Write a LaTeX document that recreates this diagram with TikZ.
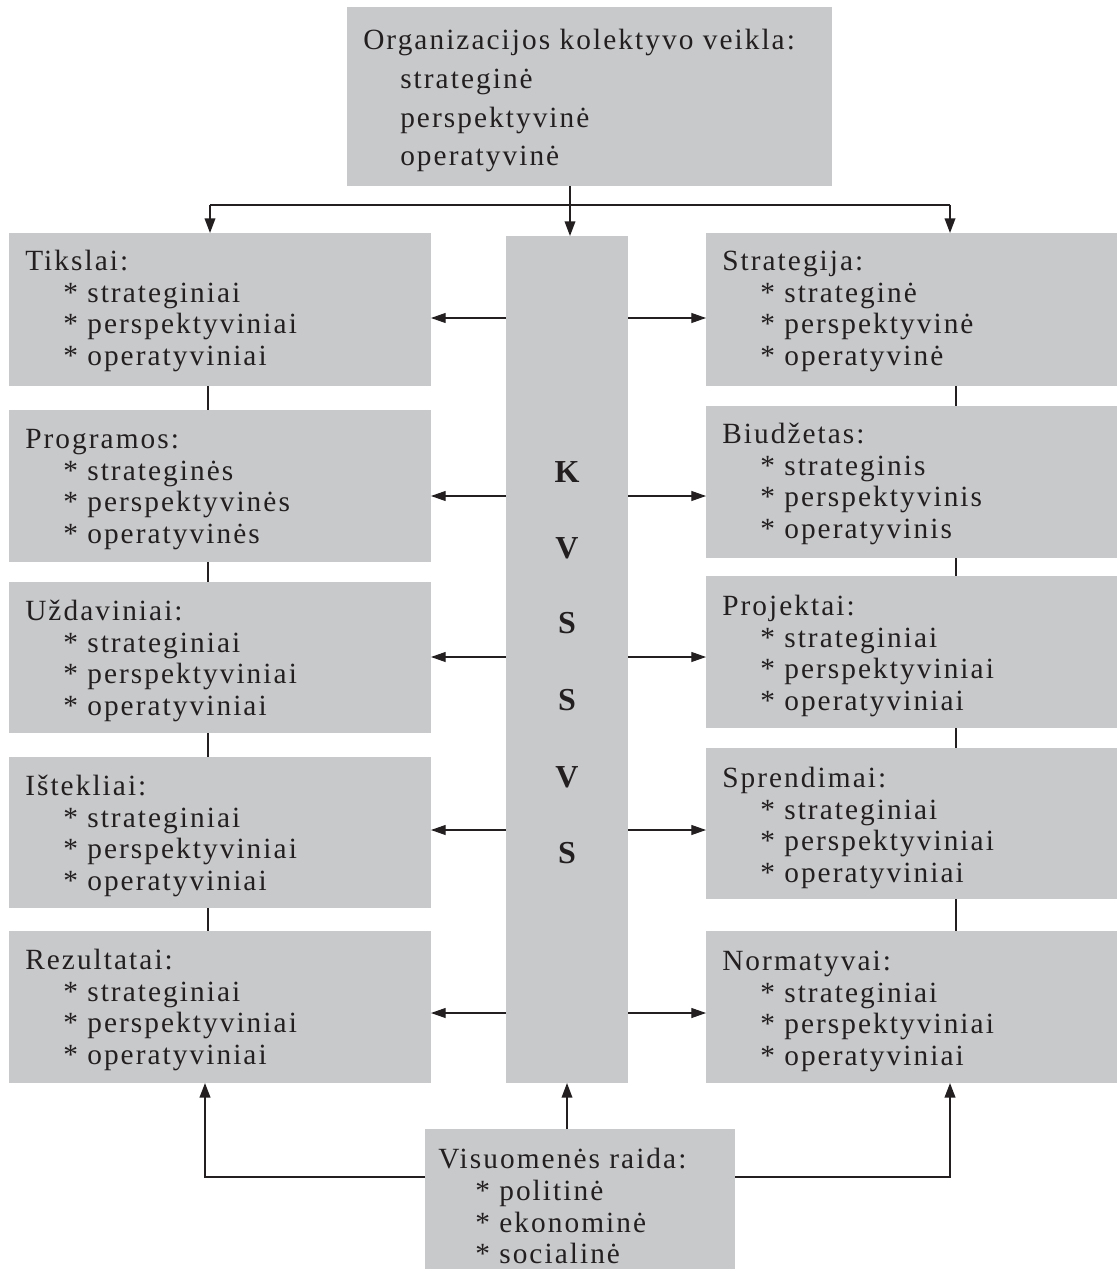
\documentclass[tikz,border=0pt]{standalone}
\usepackage{fontspec}
\setmainfont[LetterSpace=7]{Liberation Serif}
\usetikzlibrary{arrows.meta}
\definecolor{boxgray}{RGB}{200,201,203}
\definecolor{ink}{RGB}{35,31,32}
\newcommand\mkbox[5]{\node[box, minimum width={(#4-#2)*0.75pt}, minimum height={(#5-#3)*0.75pt}] (#1) at (#2,#3) {};}
\newcommand\mkblock[8]{%
  \node[txt] (#1-t) at (#2,#4) {#5};
  \node[txt] (#1-a) at (#3,{#4+32}) {*\ #6};
  \node[txt] (#1-b) at (#3,{#4+63}) {*\ #7};
  \node[txt] (#1-c) at (#3,{#4+95}) {*\ #8};}
\begin{document}
\begin{tikzpicture}[x=0.75pt,y=-0.75pt,
  box/.style={fill=boxgray, draw=none, inner sep=0pt, outer sep=0pt, anchor=north west},
  txt/.style={anchor=base west, inner sep=0pt, text=ink, font=\fontsize{22}{26}\selectfont},
  big/.style={anchor=base, inner sep=0pt, text=ink, font=\fontsize{24}{28}\bfseries\selectfont\addfontfeatures{LetterSpace=0}},
  arr/.style={-{Triangle[length=11pt,width=8pt]}},
  conn/.style={draw=ink, line width=1.2pt},
  thinarr/.style={draw=ink, line width=0.8pt, -{Triangle[length=11pt,width=7.5pt]}}]
\useasboundingbox (0,0) rectangle (1117,1276);
% boxes
\mkbox{top}{347}{7}{832}{186}
\mkbox{kv}{506}{236}{628}{1083}
\mkbox{tik}{9}{233}{431}{386}
\mkbox{pro}{9}{410}{431}{562}
\mkbox{uzd}{9}{582}{431}{733}
\mkbox{ist}{9}{757}{431}{908}
\mkbox{rez}{9}{931}{431}{1083}
\mkbox{str}{706}{233}{1117}{386}
\mkbox{biu}{706}{406}{1117}{558}
\mkbox{prj}{706}{576}{1117}{728}
\mkbox{spr}{706}{748}{1117}{899}
\mkbox{nor}{706}{931}{1117}{1083}
\mkbox{vis}{425}{1129}{735}{1269}
% texts
\node[txt] (top-t) at (363,50) {Organizacijos kolektyvo veikla:};
\node[txt] (top-a) at (400,89) {strateginė};
\node[txt] (top-b) at (400,128) {perspektyvinė};
\node[txt] (top-c) at (400,166) {operatyvinė};
\mkblock{tikT}{25}{63}{271}{Tikslai:}{strateginiai}{perspektyviniai}{operatyviniai}
\mkblock{proT}{25}{63}{448}{Programos:}{strateginės}{perspektyvinės}{operatyvinės}
\mkblock{uzdT}{25}{63}{620}{Uždaviniai:}{strateginiai}{perspektyviniai}{operatyviniai}
\mkblock{istT}{25}{63}{795}{Ištekliai:}{strateginiai}{perspektyviniai}{operatyviniai}
\mkblock{rezT}{25}{63}{969}{Rezultatai:}{strateginiai}{perspektyviniai}{operatyviniai}
\mkblock{strT}{722}{760}{271}{Strategija:}{strateginė}{perspektyvinė}{operatyvinė}
\mkblock{biuT}{722}{760}{443}{Biudžetas:}{strateginis}{perspektyvinis}{operatyvinis}
\mkblock{prjT}{722}{760}{615}{Projektai:}{strateginiai}{perspektyviniai}{operatyviniai}
\mkblock{sprT}{722}{760}{787}{Sprendimai:}{strateginiai}{perspektyviniai}{operatyviniai}
\mkblock{norT}{722}{760}{970}{Normatyvai:}{strateginiai}{perspektyviniai}{operatyviniai}
\node[txt] (vis-t) at (438,1168) {Visuomenės raida:};
\node[txt] (vis-a) at (475,1200) {*\ politinė};
\node[txt] (vis-b) at (475,1232) {*\ ekonominė};
\node[txt] (vis-c) at (475,1263) {*\ socialinė};
% KVSSVS
\node[big] (k1) at (567,482) {K};
\node[big] (k2) at (567,558) {V};
\node[big] (k3) at (567,633) {S};
\node[big] (k4) at (567,710) {S};
\node[big] (k5) at (567,787) {V};
\node[big] (k6) at (567,863) {S};
% coordinates
\coordinate (hl) at (210,205);
\coordinate (hr) at (950,205);
\coordinate (cl) at (208,0);
\coordinate (cr) at (956,0);
\coordinate (bl) at (205,1177);
\coordinate (br) at (950,1177);
\coordinate (kvx) at (570,0);
\coordinate (y1) at (0,318);
\coordinate (y2) at (0,496);
\coordinate (y3) at (0,657);
\coordinate (y4) at (0,830);
\coordinate (y5) at (0,1013);
% top connectors
\draw[draw=ink, line width=1.6pt] (hl) -- (hr);
\draw[draw=ink, line width=1.2pt, arr] (hl) -- (hl |- tik.north);
\draw[draw=ink, line width=1.2pt, arr] (hr) -- (hr |- str.north);
\draw[draw=ink, line width=1.1pt, arr] (top.south -| kvx) -- (kv.north -| kvx);
% left chain
\draw[conn] (tik.south -| cl) -- (pro.north -| cl);
\draw[conn] (pro.south -| cl) -- (uzd.north -| cl);
\draw[conn] (uzd.south -| cl) -- (ist.north -| cl);
\draw[conn] (ist.south -| cl) -- (rez.north -| cl);
% right chain
\draw[conn] (str.south -| cr) -- (biu.north -| cr);
\draw[conn] (biu.south -| cr) -- (prj.north -| cr);
\draw[conn] (prj.south -| cr) -- (spr.north -| cr);
\draw[conn] (spr.south -| cr) -- (nor.north -| cr);
% horizontal arrows from KVSSVS
\draw[thinarr] (kv.west |- y1) -- (tik.east |- y1);
\draw[thinarr] (kv.west |- y2) -- (pro.east |- y2);
\draw[thinarr] (kv.west |- y3) -- (uzd.east |- y3);
\draw[thinarr] (kv.west |- y4) -- (ist.east |- y4);
\draw[thinarr] (kv.west |- y5) -- (rez.east |- y5);
\draw[thinarr] (kv.east |- y1) -- (str.west |- y1);
\draw[thinarr] (kv.east |- y2) -- (biu.west |- y2);
\draw[thinarr] (kv.east |- y3) -- (prj.west |- y3);
\draw[thinarr] (kv.east |- y4) -- (spr.west |- y4);
\draw[thinarr] (kv.east |- y5) -- (nor.west |- y5);
% bottom connectors
\draw[draw=ink, line width=1.1pt, arr] (vis.north -| kv.south) -- (kv.south);
\draw[draw=ink, line width=1.5pt, arr] (vis.west |- bl) -- (bl) -- (rez.south -| bl);
\draw[draw=ink, line width=1.5pt, arr] (vis.east |- br) -- (br) -- (nor.south -| br);
\end{tikzpicture}
\end{document}
